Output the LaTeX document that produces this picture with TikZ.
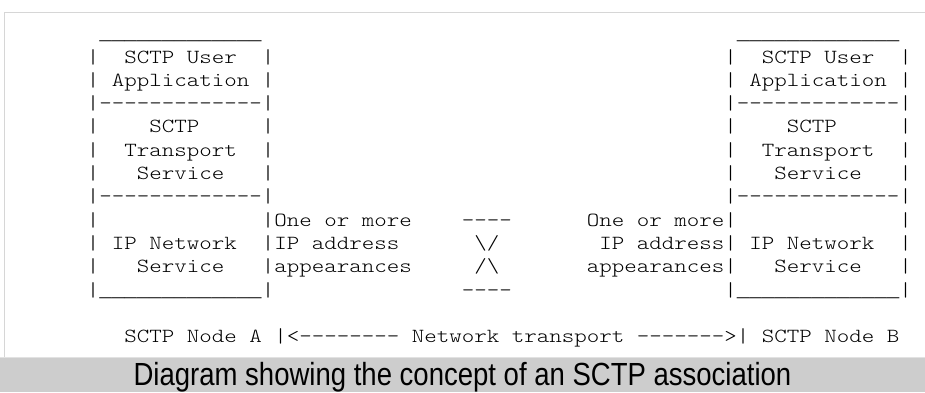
\documentclass[tikz,border=0pt]{standalone}
\usepackage{fontspec}
\setmonofont{lmmonolt10-regular.otf}[FakeStretch=1.190476]
\newfontfamily\umono{Liberation Mono}
\newfontfamily\capfont{Liberation Sans}[FakeStretch=0.86]
\definecolor{framegray}{HTML}{D6D6D6}
\definecolor{bargray}{HTML}{CDCDCD}
\newcommand\SPC[1]{\hspace*{#1\dimexpr 12.5bp\relax}}
\newcommand\USC{{\umono\fontsize{20.91pt}{23.4pt}\selectfont\_\_\_\_\_\_\_\_\_\_\_\_\_}}
\begin{document}
\begin{tikzpicture}[x=1bp,y=-1bp,
  asc/.style={anchor=base west, inner sep=0pt, outer sep=0pt,
    font=\ttfamily\fontsize{20.075pt}{23.4pt}\selectfont, text=black},
  capt/.style={anchor=base, inner sep=0pt, outer sep=0pt,
    font=\capfont\fontsize{32bp}{36bp}\selectfont, text=black}]
\useasboundingbox (0,0) rectangle (925,392);
\fill[white] (0,0) rectangle (925,392);
\draw[framegray, line width=1.5bp] (4.5,357) -- (4.5,12.5) -- (925,12.5);
\fill[bargray] (0,357) rectangle (925,392);
\draw[framegray!70!white, line width=1bp] (0,357) -- (925,357);
\node[asc] (l0) at (-0.75,39.7) {\SPC{8}\USC\SPC{38}\USC};
\node[asc] (l1) at (-0.75,63.0) {\SPC{7}|\SPC{2}SCTP\SPC{1}User\SPC{2}|\SPC{36}|\SPC{2}SCTP\SPC{1}User\SPC{2}|};
\node[asc] (l2) at (-0.75,86.3) {\SPC{7}|\SPC{1}Application\SPC{1}|\SPC{36}|\SPC{1}Application\SPC{1}|};
\node[asc] (l3) at (-0.75,109.6) {\SPC{7}|-------------|\SPC{36}|-------------|};
\node[asc] (l4) at (-0.75,132.9) {\SPC{7}|\SPC{4}SCTP\SPC{5}|\SPC{36}|\SPC{4}SCTP\SPC{5}|};
\node[asc] (l5) at (-0.75,156.2) {\SPC{7}|\SPC{2}Transport\SPC{2}|\SPC{36}|\SPC{2}Transport\SPC{2}|};
\node[asc] (l6) at (-0.75,179.5) {\SPC{7}|\SPC{3}Service\SPC{3}|\SPC{36}|\SPC{3}Service\SPC{3}|};
\node[asc] (l7) at (-0.75,202.8) {\SPC{7}|-------------|\SPC{36}|-------------|};
\node[asc] (l8) at (-0.75,226.1) {\SPC{7}|\SPC{13}|One\SPC{1}or\SPC{1}more\SPC{4}----\SPC{6}One\SPC{1}or\SPC{1}more|\SPC{13}|};
\node[asc] (l9) at (-0.75,249.4) {\SPC{7}|\SPC{1}IP\SPC{1}Network\SPC{2}|IP\SPC{1}address\SPC{6}\textbackslash/\SPC{8}IP\SPC{1}address|\SPC{1}IP\SPC{1}Network\SPC{2}|};
\node[asc] (l10) at (-0.75,272.7) {\SPC{7}|\SPC{3}Service\SPC{3}|appearances\SPC{5}/\textbackslash\SPC{7}appearances|\SPC{3}Service\SPC{3}|};
\node[asc] (l11) at (-0.75,296.0) {\SPC{7}|\USC|\SPC{15}----\SPC{17}|\USC|};
\node[asc] (l13) at (-0.75,342.6) {\SPC{10}SCTP\SPC{1}Node\SPC{1}A\SPC{1}|<--------\SPC{1}Network\SPC{1}transport\SPC{1}------->|\SPC{1}SCTP\SPC{1}Node\SPC{1}B};
\node[capt] (cap) at (462.5,385) {Diagram showing the concept of an SCTP association};
\end{tikzpicture}
\end{document}
